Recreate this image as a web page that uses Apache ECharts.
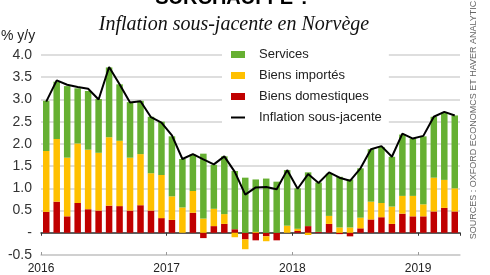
<!DOCTYPE html>
<html>
<head>
<meta charset="utf-8">
<script src="https://cdn.jsdelivr.net/npm/echarts@6/dist/echarts.min.js"></script>
<style>
  html, body { margin: 0; padding: 0; background: #fff; }
  #chart { width: 490px; height: 275px; }
</style>
</head>
<body>
<div id="chart"></div>
<script>
// mois janv. 2016 - avr. 2019
const months = [
  '2016-01','2016-02','2016-03','2016-04','2016-05','2016-06','2016-07','2016-08','2016-09','2016-10','2016-11','2016-12',
  '2017-01','2017-02','2017-03','2017-04','2017-05','2017-06','2017-07','2017-08','2017-09','2017-10','2017-11','2017-12',
  '2018-01','2018-02','2018-03','2018-04','2018-05','2018-06','2018-07','2018-08','2018-09','2018-10','2018-11','2018-12',
  '2019-01','2019-02','2019-03','2019-04'
];
const yearTicks = [0, 12, 24, 36];
const yearLabels = ['2016', '2017', '2018', '2019'];

const domestic = [0.47,0.70,0.37,0.67,0.53,0.50,0.61,0.60,0.50,0.62,
  0.50,0.33,0.29,0.00,0.45,-0.12,0.15,0.20,0.08,-0.15,
  -0.17,-0.08,-0.17,0.00,0.04,0.15,0.02,0.20,-0.03,-0.08,
  0.10,0.30,0.35,0.20,0.43,0.37,0.37,0.48,0.56,0.48];
const imported = [1.37,1.41,1.32,1.34,1.34,1.30,1.54,1.47,1.19,1.15,
  0.84,0.97,0.53,0.57,0.49,0.32,0.39,0.22,-0.10,-0.22,
  0.02,-0.11,0.00,0.16,0.05,-0.05,0.00,0.18,0.12,0.12,
  0.24,0.40,0.32,0.39,0.40,0.46,0.27,0.76,0.63,0.52];
const services = [1.13,1.29,1.61,1.24,1.32,1.21,1.57,1.27,1.25,1.20,
  1.27,1.20,1.35,1.09,0.82,1.46,0.99,1.30,1.31,1.24,
  1.18,1.22,1.15,1.25,0.91,1.21,1.11,0.95,1.14,1.08,
  1.11,1.18,1.26,1.12,1.38,1.29,1.53,1.37,1.51,1.64];
const core = [2.95,3.43,3.33,3.28,3.24,3.00,3.73,3.34,2.93,2.96,
  2.60,2.48,2.19,1.66,1.77,1.65,1.54,1.72,1.37,0.86,
  1.02,1.03,0.98,1.41,0.99,1.32,1.12,1.36,1.24,1.17,
  1.45,1.88,1.95,1.71,2.23,2.12,2.18,2.61,2.72,2.64];

const chart = echarts.init(document.getElementById('chart'), null, { renderer: 'canvas' });

const sans = 'Liberation Sans, Arial, sans-serif';
const barW = 6.5;
// trait noir pour la légende de la courbe (coins minuscules pour garder la boîte 14x7)
const lineIcon = 'path://M0 0L0.01 0L0.01 0.01Z M0 2.5L14 2.5L14 4.5L0 4.5Z M13.99 6.99L14 7L13.99 7Z';

chart.setOption({
  animation: false,
  grid: { left: 41, right: 30, top: 55, bottom: 17 },
  graphic: [
    { type: 'text', x: 233, y: -2,
      style: { text: 'SURCHAUFFE ?', font: 'bold 20px ' + sans, fill: '#000',
               align: 'center', verticalAlign: 'middle' } },
    { type: 'text', x: 234, y: 25,
      style: { text: 'Inflation sous-jacente en Norvège', font: 'italic 20px Liberation Serif, serif',
               fill: '#111', align: 'center', verticalAlign: 'middle' } },
    { type: 'text', x: 1, y: 36,
      style: { text: '% y/y', font: '14px ' + sans, fill: '#222', verticalAlign: 'middle' } },
    { type: 'text', x: 474, y: 117, rotation: Math.PI / 2,
      style: { text: 'SOURCES : OXFORD ECONOMCS ET HAVER ANALYTICS', font: '9px ' + sans,
               fill: '#666', align: 'center', verticalAlign: 'middle' } }
  ],
  legend: {
    orient: 'vertical', left: 222, top: 44,
    padding: [4, 7, 6, 9], itemWidth: 14, itemHeight: 7, itemGap: 8,
    backgroundColor: '#fff',
    textStyle: { fontFamily: sans, fontSize: 13, color: '#222', padding: [0, 0, 0, 9] },
    data: [
      { name: 'Services', icon: 'rect' },
      { name: 'Biens importés', icon: 'rect' },
      { name: 'Biens domestiques', icon: 'rect' },
      { name: 'Inflation sous-jacente', icon: lineIcon }
    ]
  },
  xAxis: [
    {
      type: 'category', data: months, position: 'top',
      axisLine: { onZero: true, lineStyle: { color: '#333', width: 1.5 } },
      axisTick: { show: true, inside: true, length: 3, interval: (i) => i % 12 === 0,
                  lineStyle: { color: '#333' } },
      axisLabel: { show: false }
    },
    {
      type: 'value', min: 0, max: 40, interval: 12, position: 'bottom',
      axisLine: { show: true, lineStyle: { color: '#ccc', width: 1.5 } },
      axisTick: { show: true, inside: true, length: 3, customValues: yearTicks,
                  lineStyle: { color: '#999' } },
      axisLabel: { customValues: yearTicks, margin: 8, fontFamily: sans, fontSize: 12, color: '#222',
                   formatter: (v) => yearLabels[yearTicks.indexOf(v)] || '' },
      splitLine: { show: false }
    }
  ],
  yAxis: {
    type: 'value', min: -0.5, max: 4, interval: 0.5,
    axisLine: { show: false }, axisTick: { show: false },
    axisLabel: { margin: 9, fontFamily: sans, fontSize: 14, color: '#333',
                 formatter: (v) => (v === 0 ? '-' : v.toFixed(1)) },
    splitLine: { lineStyle: { color: '#d3d3d3', width: 1.5 } }
  },
  series: [
    { name: 'Biens domestiques', type: 'bar', stack: 'c', data: domestic, barWidth: barW,
      itemStyle: { color: '#c00000' } },
    { name: 'Biens importés', type: 'bar', stack: 'c', data: imported, barWidth: barW,
      itemStyle: { color: '#ffc000' } },
    { name: 'Services', type: 'bar', stack: 'c', data: services, barWidth: barW,
      itemStyle: { color: '#66b032' } },
    { name: 'Inflation sous-jacente', type: 'line', data: core, symbol: 'none', z: 5,
      lineStyle: { color: '#000', width: 2 }, itemStyle: { color: '#000' } }
  ]
});
</script>
</body>
</html>
